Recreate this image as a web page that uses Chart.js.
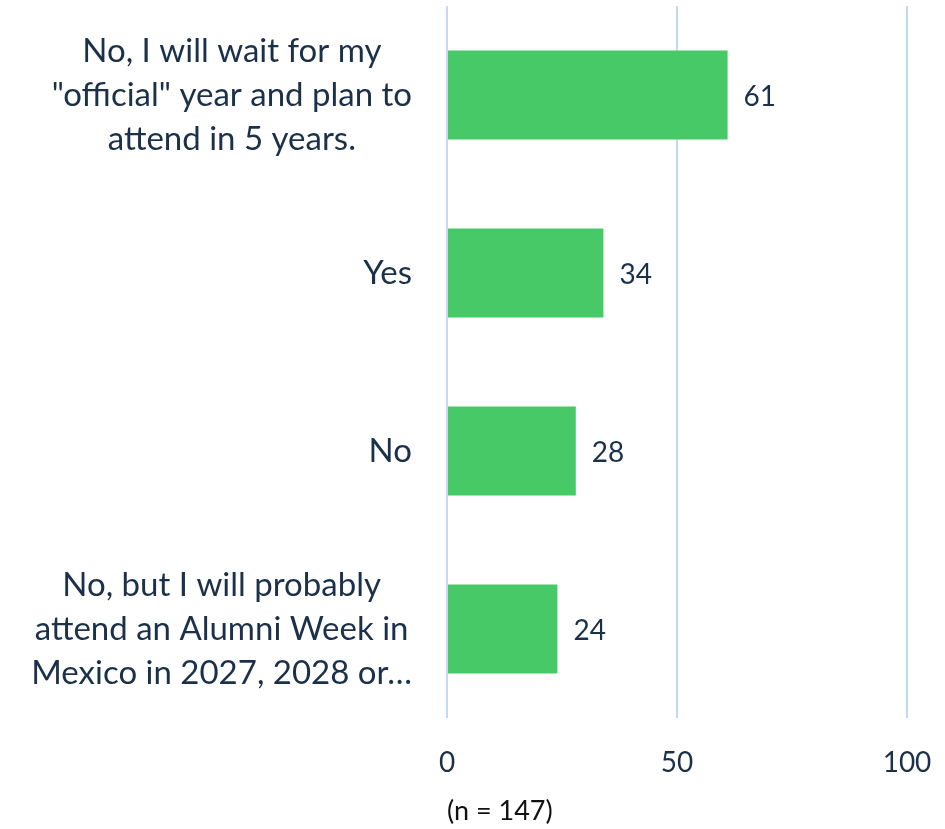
<!DOCTYPE html>
<html lang="en">
<head>
    <meta charset="UTF-8">
    <title>Alumni Week</title>
    <script src="https://cdn.jsdelivr.net/npm/chart.js"></script>
    <style>
        body { margin: 0; background: #fff; }
        #wrap { width: 945px; height: 829px; }
    </style>
</head>
<body>
    <div id="wrap"><canvas id="chart"></canvas></div>

    <script>
        // answers, each split into the lines shown on the axis
        const answers = [
            ['No, I will wait for my', '"official" year and plan to', 'attend in 5 years.'],
            ['Yes'],
            ['No'],
            ['No, but I will probably', 'attend an Alumni Week in', 'Mexico in 2027, 2028 or…']
        ];
        const counts = [61, 34, 28, 24];
        const xTicks = [0, 50, 100];
        const sampleNote = '(n = 147)';

        const textColor = '#1b3049';
        const fontFamily = 'Lato, "Open Sans", sans-serif';

        // draws the category labels (centred lines, right edge fixed) and the values after the bars
        const labelPlugin = {
            id: 'labels',
            afterDraw(chart) {
                const ctx = chart.ctx;
                const y = chart.scales.y;
                ctx.save();
                ctx.fillStyle = textColor;
                ctx.font = '33px ' + fontFamily;
                ctx.textBaseline = 'middle';
                ctx.textAlign = 'center';
                const lineH = 44;
                answers.forEach((lines, i) => {
                    const cy = y.getPixelForTick(i);
                    const w = Math.max(...lines.map(l => ctx.measureText(l).width));
                    const cx = 412 - w / 2;
                    lines.forEach((l, j) => {
                        ctx.fillText(l, cx, cy + (j - (lines.length - 1) / 2) * lineH);
                    });
                });
                // values
                ctx.font = '28px ' + fontFamily;
                ctx.textAlign = 'left';
                const meta = chart.getDatasetMeta(0);
                meta.data.forEach((bar, i) => {
                    ctx.fillText(counts[i], bar.x + 16, bar.y + 2);
                });
                ctx.restore();
            }
        };

        new Chart(document.getElementById('chart'), {
            type: 'bar',
            data: {
                labels: answers,
                datasets: [{
                    data: counts,
                    backgroundColor: '#46c966',
                    barPercentage: 0.5,
                    categoryPercentage: 1
                }]
            },
            options: {
                indexAxis: 'y',
                responsive: true,
                maintainAspectRatio: false,
                animation: false,
                layout: { padding: { top: 6, right: 38, left: 0, bottom: 0 } },
                plugins: {
                    legend: { display: false },
                    tooltip: { enabled: false }
                },
                scales: {
                    y: {
                        ticks: { display: false },
                        grid: { display: false },
                        border: { display: false },
                        afterFit(scale) { scale.width = 447; }
                    },
                    x: {
                        min: 0,
                        max: 100,
                        afterBuildTicks(scale) {
                            scale.ticks = xTicks.map(v => ({ value: v }));
                        },
                        ticks: {
                            color: textColor,
                            font: { family: fontFamily, size: 28 },
                            padding: 28
                        },
                        grid: {
                            color: '#c6d9f1',
                            lineWidth: 2,
                            drawTicks: false
                        },
                        border: { display: false },
                        title: {
                            display: true,
                            text: sampleNote,
                            align: 'start',
                            color: '#111',
                            font: { family: fontFamily, size: 27 },
                            padding: { top: 14, bottom: 2 }
                        },
                        afterFit(scale) {
                            scale.height = 111;
                            scale.paddingLeft = 0;
                            scale.paddingRight = 0;
                        }
                    }
                }
            },
            plugins: [labelPlugin]
        });
    </script>
</body>
</html>
